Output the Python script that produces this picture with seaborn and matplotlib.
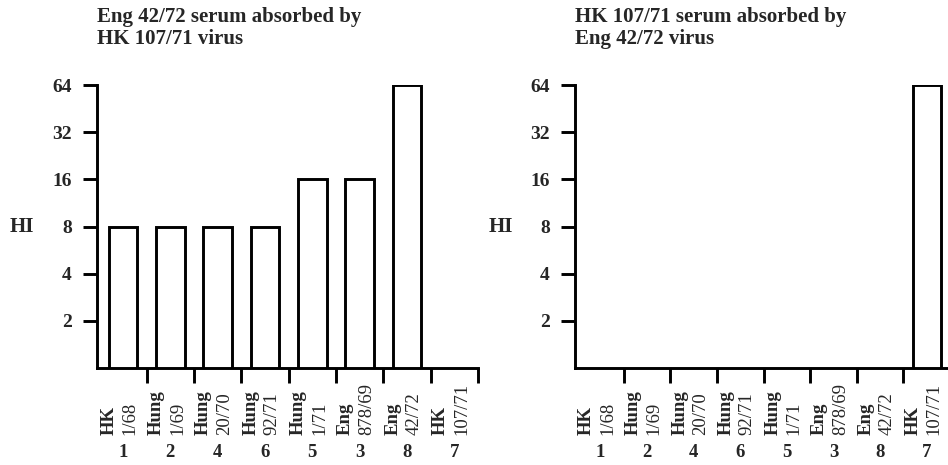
import numpy as np
import pandas as pd
import matplotlib
matplotlib.use('Agg')
import matplotlib.pyplot as plt
import seaborn as sns
from matplotlib.ticker import FixedLocator, NullFormatter

strain_names = ['HK', 'Hung', 'Hung', 'Hung', 'Hung', 'Eng', 'Eng', 'HK']
strain_ids = ['1/68', '1/69', '20/70', '92/71', '1/71', '878/69', '42/72', '107/71']
strain_nums = ['1', '2', '4', '6', '5', '3', '8', '7']
hi_left = [8, 8, 8, 8, 16, 16, 64, np.nan]
hi_right = [np.nan, np.nan, np.nan, np.nan, np.nan, np.nan, np.nan, 64]
titles = ['Eng 42/72 serum absorbed by\nHK 107/71 virus',
          'HK 107/71 serum absorbed by\nEng 42/72 virus']
y_ticks = [2, 4, 8, 16, 32, 64]

sns.set_theme(style='white')
plt.rcParams['font.family'] = ['Liberation Serif', 'DejaVu Serif']

fig = plt.figure(figsize=(9.48, 4.65), dpi=100)
ax_left = fig.add_axes([97 / 948, 1 - 368 / 465, 381 / 948, 283 / 465])
ax_right = fig.add_axes([575 / 948, 1 - 368 / 465, 375 / 948, 283 / 465])

keys = [f'{n} {i}' for n, i in zip(strain_names, strain_ids)]
lw = 2.1

for ax, vals, title in [(ax_left, hi_left, titles[0]), (ax_right, hi_right, titles[1])]:
    df = pd.DataFrame({'strain': keys, 'HI': vals}).dropna()
    sns.barplot(data=df, x='strain', y='HI', order=keys, color='white',
                edgecolor='black', linewidth=lw, width=0.6, ax=ax,
                saturation=1)
    ax.set_yscale('log', base=2)
    ax.set_ylim(1, 64)
    ax.set_xlim(-0.55, 7.5)
    ax.set_yticks(y_ticks)
    ax.set_yticklabels([str(t) for t in y_ticks], fontsize=14, fontweight='bold')
    ax.yaxis.set_minor_locator(FixedLocator([]))
    ax.tick_params(axis='y', which='major', direction='out', length=10, width=lw,
                   color='black', left=True, pad=8)
    ax.set_xticks(range(len(keys)))
    ax.set_xticklabels([])
    ax.tick_params(axis='x', which='major', length=0)
    # tick marks between categories, pointing down
    ax.xaxis.set_minor_locator(FixedLocator(np.arange(0.5, 8, 1)))
    ax.xaxis.set_minor_formatter(NullFormatter())
    ax.tick_params(axis='x', which='minor', direction='out', length=11, width=lw,
                   color='black', bottom=True)
    for side in ['top', 'right']:
        ax.spines[side].set_visible(False)
    for side in ['left', 'bottom']:
        ax.spines[side].set_color('black')
        ax.spines[side].set_linewidth(lw)
    ax.set_xlabel('')
    ax.set_ylabel('')
    ax.set_facecolor('white')

    trans = ax.get_xaxis_transform()
    for i in range(len(keys)):
        ax.text(i - 0.30, -0.237, strain_names[i], transform=trans, rotation=90,
                ha='center', va='bottom', fontsize=13.5, fontweight='bold',
                clip_on=False)
        ax.text(i + 0.15, -0.237, strain_ids[i], transform=trans, rotation=90,
                ha='center', va='bottom', fontsize=13.5, clip_on=False)
        ax.text(i, -0.297, strain_nums[i], transform=trans, ha='center',
                va='center', fontsize=13.5, fontweight='bold', clip_on=False)

    ax.text(0, 1.275, title, transform=ax.transAxes, ha='left', va='top',
            fontsize=15, fontweight='bold', linespacing=1.1)
    ax.text(-0.197, np.log2(8) / 6, 'HI', transform=ax.transAxes, ha='center',
            va='center', fontsize=15, fontweight='bold')

fig.savefig('out.png', dpi=100, facecolor='white')
